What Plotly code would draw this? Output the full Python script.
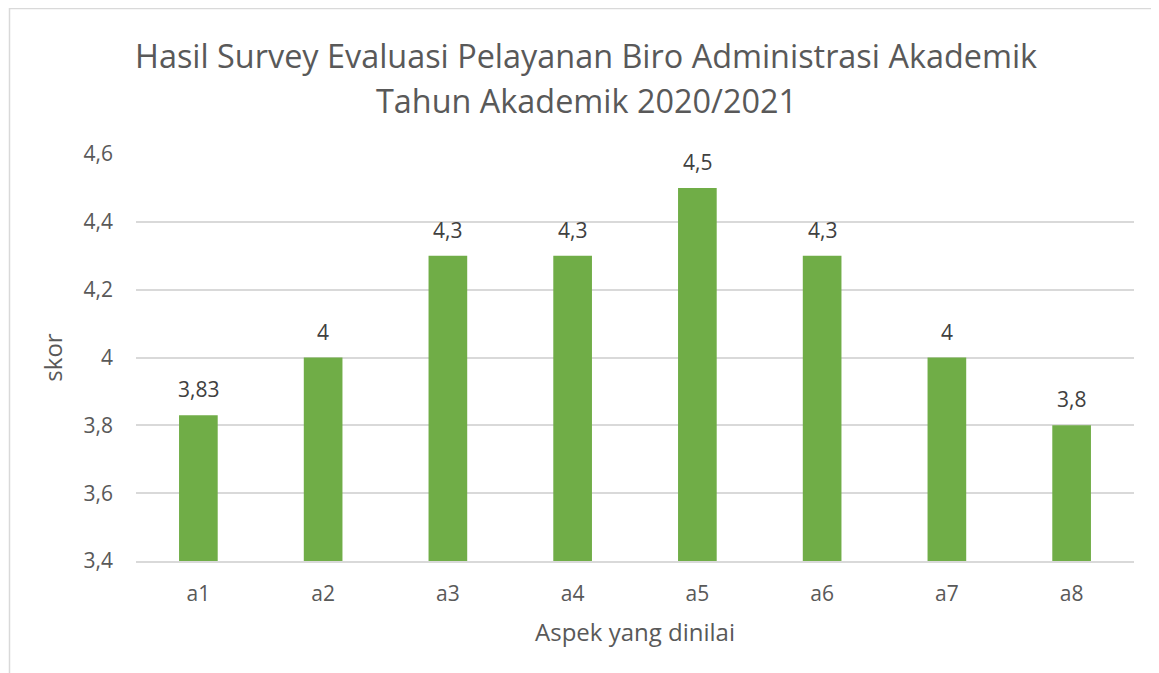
import plotly.graph_objects as go

categories = ["a1", "a2", "a3", "a4", "a5", "a6", "a7", "a8"]
skor = [3.83, 4.0, 4.3, 4.3, 4.5, 4.3, 4.0, 3.8]
tick_vals = [3.4, 3.6, 3.8, 4.0, 4.2, 4.4, 4.6]
tick_text = ["3,4", "3,6", "3,8", "4", "4,2", "4,4", "4,6"]
title_lines = ["Hasil Survey Evaluasi Pelayanan Biro Administrasi Akademik",
               "Tahun Akademik 2020/2021"]

labels = [("%g" % v).replace(".", ",") for v in skor]

FONT = "Open Sans"
TXT = "#595959"

# the page body adds an 8px margin; compensate so the figure lines up
OFF = 8
W, H = 1159 - OFF, 673 - OFF
L, R, T, B = 136 - OFF, 25, 154 - OFF, 112
pw, ph = W - L - R, H - T - B

def px_x(x):
    return (x - OFF - L) / pw

def px_y(y):
    return (H - B - (y - OFF)) / ph

fig = go.Figure()
fig.add_trace(go.Bar(
    x=categories, y=skor, marker_color="#70AD47", marker_line_width=0,
    hoverinfo="x+y",
))

annotations = []
for c, v, t in zip(categories, skor, labels):
    annotations.append(dict(
        x=c, y=v, xref="x", yref="y", text=t, showarrow=False,
        yanchor="middle", yshift=26,
        font=dict(family=FONT, size=21, color="#404040"),
    ))
for line, ypx in zip(title_lines, [55, 100]):
    annotations.append(dict(
        x=px_x(586), y=px_y(ypx), xref="paper", yref="paper", text=line,
        showarrow=False, xanchor="center", yanchor="middle",
        font=dict(family=FONT, size=32.4, color=TXT),
    ))

fig.update_layout(
    width=W, height=H,
    margin=dict(l=L, r=R, t=T, b=B),
    paper_bgcolor="white", plot_bgcolor="white",
    separators=",.",
    bargap=0.69,
    showlegend=False,
    annotations=annotations,
    xaxis=dict(
        title=dict(text="Aspek yang dinilai", font=dict(family=FONT, size=24, color=TXT), standoff=18),
        tickfont=dict(family=FONT, size=21, color=TXT),
        showline=True, linecolor="#D9D9D9", linewidth=2,
        ticks="", showgrid=False, ticklabelstandoff=13,
    ),
    yaxis=dict(
        title=dict(text="skor", font=dict(family=FONT, size=24, color=TXT), standoff=14),
        range=[3.4, 4.6], tickvals=tick_vals, ticktext=tick_text,
        tickfont=dict(family=FONT, size=21, color=TXT),
        showgrid=True, gridcolor="#D9D9D9", gridwidth=1.5,
        zeroline=False, showline=False, ticks="", ticklabelstandoff=22,
    ),
    shapes=[dict(
        type="rect", xref="paper", yref="paper",
        x0=px_x(9.5), x1=px_x(1300), y0=px_y(800), y1=px_y(8.5),
        line=dict(color="#D9D9D9", width=1.5), fillcolor="rgba(0,0,0,0)", layer="below",
    )],
)

fig.write_html("out.html")
